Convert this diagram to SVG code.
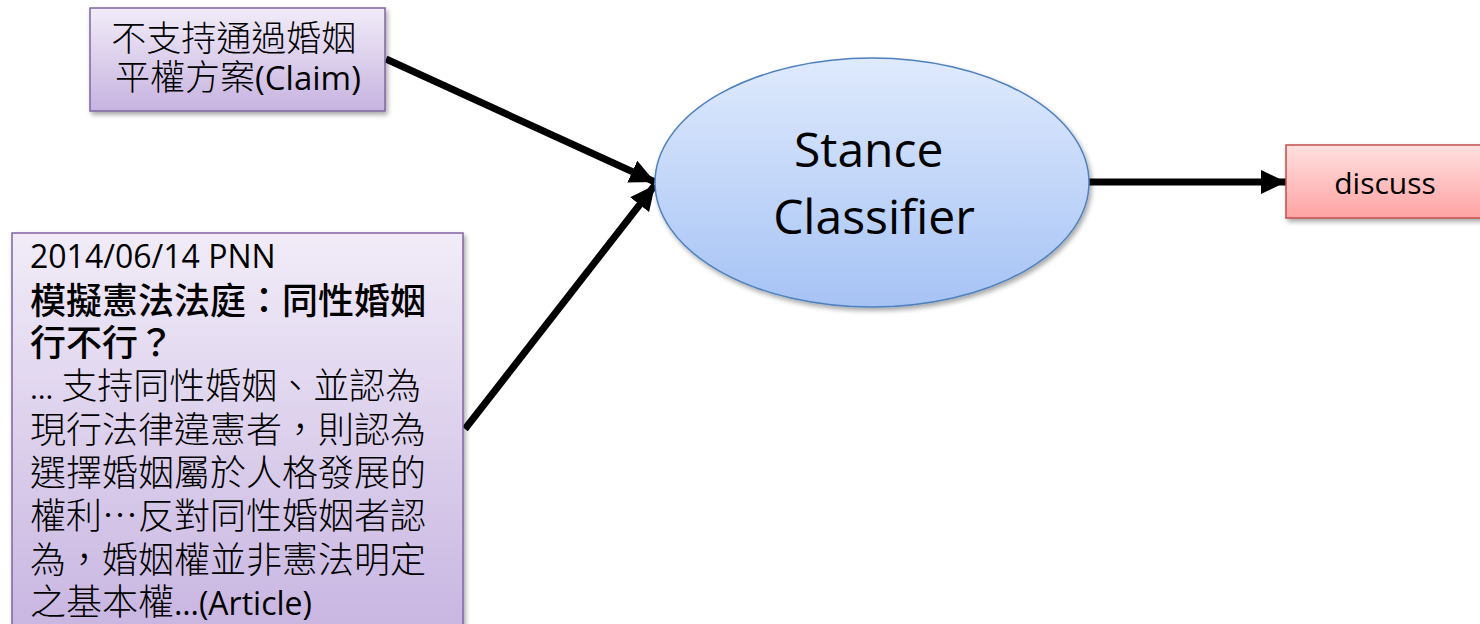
<svg xmlns="http://www.w3.org/2000/svg" width="1480" height="624" viewBox="0 0 1480 624">
  <defs>
    <linearGradient id="gPurple" x1="0" y1="0" x2="0" y2="1">
      <stop offset="0" stop-color="#f1ecf8"/>
      <stop offset="1" stop-color="#c7b3e0"/>
    </linearGradient>
    <linearGradient id="gPurpleTall" x1="0" y1="0" x2="0" y2="1">
      <stop offset="0" stop-color="#f1ecf8"/>
      <stop offset="1" stop-color="#c8b5e1"/>
    </linearGradient>
    <linearGradient id="gBlue" x1="0" y1="0" x2="0" y2="1">
      <stop offset="0" stop-color="#dfeafd"/>
      <stop offset="1" stop-color="#a6c3f5"/>
    </linearGradient>
    <linearGradient id="gRed" x1="0" y1="0" x2="0" y2="1">
      <stop offset="0" stop-color="#ffe0e0"/>
      <stop offset="1" stop-color="#ffa3a3"/>
    </linearGradient>
    <filter id="shadow" x="-10%" y="-10%" width="125%" height="130%">
      <feGaussianBlur in="SourceAlpha" stdDeviation="2.5"/>
      <feOffset dx="2" dy="3" result="b"/>
      <feComponentTransfer><feFuncA type="linear" slope="0.35"/></feComponentTransfer>
      <feMerge><feMergeNode/><feMergeNode in="SourceGraphic"/></feMerge>
    </filter>
    <marker id="arrow" markerUnits="userSpaceOnUse" markerWidth="30" markerHeight="30" refX="25" refY="12" orient="auto">
      <path d="M0,0 L25,12 L0,24 Z" fill="#000"/>
    </marker>
    <style>
      .purple { fill: url(#gPurple); stroke: #8064a2; stroke-width: 1.5; }
      .blue { fill: url(#gBlue); stroke: #4f81bd; stroke-width: 1.5; }
      .red { fill: url(#gRed); stroke: #c0504d; stroke-width: 1.5; }
      .txt { font-family: "Open Sans", "Noto Sans CJK TC", sans-serif; fill: #000; }
      .cjk { font-family: "Noto Sans CJK TC", sans-serif; font-weight: 300; }
      .head { font-family: "Noto Sans CJK TC", sans-serif; font-weight: 500; }
      .conn { stroke: #000; stroke-width: 7; fill: none; marker-end: url(#arrow); }
    </style>
  </defs>

  <rect width="1480" height="624" fill="#fff"/>

  <!-- connectors -->
  <g id="connectors">
    <line class="conn" x1="386" y1="59" x2="655" y2="182"/>
    <line class="conn" x1="465" y1="429" x2="655" y2="185"/>
    <line class="conn" x1="1089" y1="182" x2="1286" y2="182"/>
  </g>

  <!-- claim -->
  <g id="claim">
    <rect class="purple" x="90" y="8" width="295" height="103" filter="url(#shadow)"/>
    <text class="txt" font-size="33" text-anchor="middle">
      <tspan x="238" y="51" class="cjk" font-size="35">不支持通過婚姻</tspan>
      <tspan x="238" y="90"><tspan class="cjk" font-size="35">平權方案</tspan>(Claim)</tspan>
    </text>
  </g>

  <!-- article -->
  <g id="article">
    <rect x="12" y="233" width="451" height="400" fill="url(#gPurpleTall)" stroke="#8064a2" stroke-width="1.5" filter="url(#shadow)"/>
    <text class="txt" font-size="32">
      <tspan x="30" y="268">2014/06/14 PNN</tspan>
    </text>
    <text class="txt head" font-size="36">
      <tspan x="30" y="314">模擬憲法法庭：同性婚姻</tspan>
      <tspan x="30" y="356">行不行？</tspan>
    </text>
    <text class="txt" font-size="36">
      <tspan x="30" y="399"><tspan font-size="30">… </tspan><tspan class="cjk">支持同性婚姻、並認為</tspan></tspan>
      <tspan x="30" y="443" class="cjk">現行法律違憲者，則認為</tspan>
      <tspan x="30" y="486" class="cjk">選擇婚姻屬於人格發展的</tspan>
      <tspan x="30" y="529" class="cjk">權利…反對同性婚姻者認</tspan>
      <tspan x="30" y="573" class="cjk">為，婚姻權並非憲法明定</tspan>
      <tspan x="30" y="615"><tspan class="cjk">之基本權</tspan><tspan font-size="32">…(Article)</tspan></tspan>
    </text>
  </g>

  <!-- classifier -->
  <g id="classifier">
    <ellipse class="blue" cx="872" cy="182.5" rx="217" ry="124.5" filter="url(#shadow)"/>
    <text class="txt" font-size="48" text-anchor="middle">
      <tspan x="875" y="167">Stance</tspan>
      <tspan x="874" y="234">Classifier</tspan>
    </text>
  </g>

  <!-- output label -->
  <g id="discuss">
    <rect class="red" x="1286" y="145" width="200" height="73" filter="url(#shadow)"/>
    <text class="txt" font-size="30" x="1385" y="194" text-anchor="middle">discuss</text>
  </g>
</svg>
